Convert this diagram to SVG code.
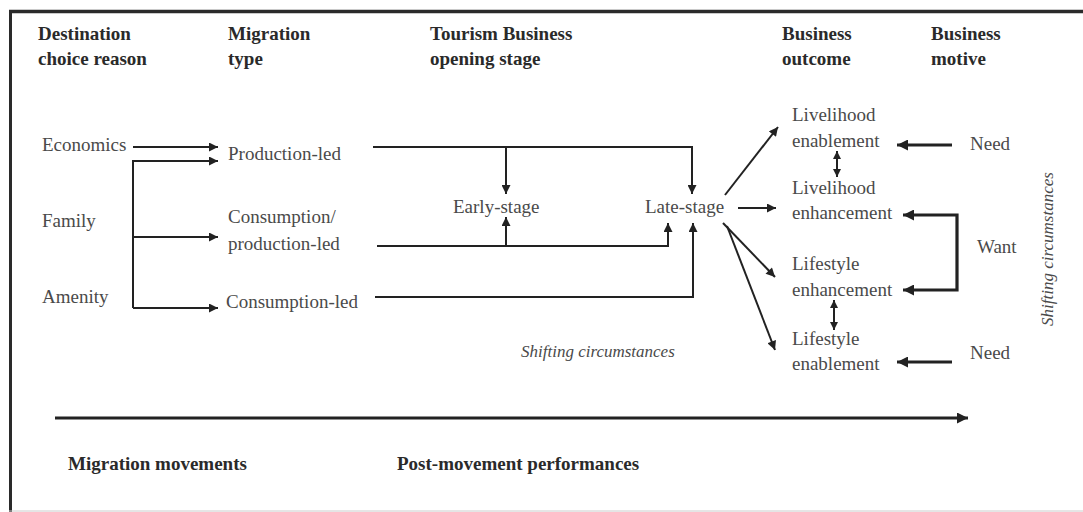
<svg xmlns="http://www.w3.org/2000/svg" width="1083" height="512" viewBox="0 0 1083 512">
<style>
.h{font-family:'Liberation Serif','Times New Roman',Times,'DejaVu Serif','Noto Serif',serif;font-weight:bold;font-size:19px;fill:#2a2a2a}
.t{font-family:'Liberation Serif','Times New Roman',Times,'DejaVu Serif','Noto Serif',serif;font-size:19px;fill:#4a4a4a}
.i{font-family:'Liberation Serif','Times New Roman',Times,'DejaVu Serif','Noto Serif',serif;font-style:italic;font-size:17px;fill:#4a4a4a}
.c{fill:none;stroke:#222;stroke-width:2}
.k{fill:none;stroke:#222;stroke-width:3.2}
</style>
<defs>
<marker id="ah" viewBox="0 0 10 10" refX="10" refY="5" markerWidth="10" markerHeight="9" markerUnits="userSpaceOnUse" orient="auto-start-reverse"><path d="M0,0 L10,5 L0,10 z" fill="#222"/></marker>
<marker id="ahs" viewBox="0 0 10 10" refX="10" refY="5" markerWidth="8" markerHeight="8" markerUnits="userSpaceOnUse" orient="auto-start-reverse"><path d="M0,0 L10,5 L0,10 z" fill="#222"/></marker>
<marker id="ahk" viewBox="0 0 10 10" refX="10" refY="5" markerWidth="11" markerHeight="11" markerUnits="userSpaceOnUse" orient="auto-start-reverse"><path d="M0,0 L10,5 L0,10 z" fill="#222"/></marker>
</defs>
<rect width="1083" height="512" fill="#fff"/>
<g id="frame">
<line x1="9" y1="11.5" x2="1083" y2="11.5" stroke="#2a2a2a" stroke-width="3.5"/>
<line x1="10.5" y1="10" x2="10.5" y2="512" stroke="#2a2a2a" stroke-width="3"/>
<line x1="9" y1="511" x2="1083" y2="511" stroke="#ccc" stroke-width="1"/>
</g>
<g id="headers">
<text class="h" x="38" y="40">Destination</text>
<text class="h" x="38" y="65">choice reason</text>
<text class="h" x="228" y="40">Migration</text>
<text class="h" x="228" y="65">type</text>
<text class="h" x="430" y="40">Tourism Business</text>
<text class="h" x="430" y="65">opening stage</text>
<text class="h" x="782" y="40">Business</text>
<text class="h" x="782" y="65">outcome</text>
<text class="h" x="931" y="40">Business</text>
<text class="h" x="931" y="65">motive</text>
</g>
<g id="economics"><text class="t" x="42" y="151">Economics</text></g>
<g id="family"><text class="t" x="42" y="227">Family</text></g>
<g id="amenity"><text class="t" x="42" y="303">Amenity</text></g>
<g id="production-led"><text class="t" x="228" y="160">Production-led</text></g>
<g id="consumption-production-led"><text class="t" x="228" y="223">Consumption/</text><text class="t" x="228" y="250">production-led</text></g>
<g id="consumption-led"><text class="t" x="226" y="308">Consumption-led</text></g>
<g id="early-stage"><text class="t" x="453" y="213">Early-stage</text></g>
<g id="late-stage"><text class="t" x="645" y="213">Late-stage</text></g>
<g id="livelihood-enablement"><text class="t" x="792" y="121">Livelihood</text><text class="t" x="792" y="147">enablement</text></g>
<g id="livelihood-enhancement"><text class="t" x="792" y="194">Livelihood</text><text class="t" x="792" y="219">enhancement</text></g>
<g id="lifestyle-enhancement"><text class="t" x="792" y="270">Lifestyle</text><text class="t" x="792" y="296">enhancement</text></g>
<g id="lifestyle-enablement"><text class="t" x="792" y="345">Lifestyle</text><text class="t" x="792" y="370">enablement</text></g>
<g id="need-top"><text class="t" x="970" y="150">Need</text></g>
<g id="want"><text class="t" x="977" y="253">Want</text></g>
<g id="need-bottom"><text class="t" x="970" y="359">Need</text></g>
<g id="shifting-mid"><text class="i" x="521" y="357">Shifting circumstances</text></g>
<g id="shifting-side"><text class="i" x="0" y="0" text-anchor="middle" transform="translate(1053,249) rotate(-90)">Shifting circumstances</text></g>
<g id="migration-movements"><text class="h" x="68" y="470">Migration movements</text></g>
<g id="post-movement"><text class="h" x="397" y="470">Post-movement performances</text></g>
<g id="connectors">
<path class="c" d="M133,147 H218" marker-end="url(#ah)"/>
<path class="c" d="M133,308 V161 H218" marker-end="url(#ah)"/>
<path class="c" d="M133,237 H218" marker-end="url(#ah)"/>
<path class="c" d="M133,308 H218" marker-end="url(#ah)"/>
<path class="c" d="M373,147 H692 V194" marker-end="url(#ah)"/>
<path class="c" d="M506,147 V194" marker-end="url(#ah)"/>
<path class="c" d="M377,246 H668 V223" marker-end="url(#ah)"/>
<path class="c" d="M506,246 V217" marker-end="url(#ah)"/>
<path class="c" d="M375,297 H693 V223" marker-end="url(#ah)"/>
<path class="c" d="M725,195 L778,127" marker-end="url(#ah)"/>
<path class="c" d="M738,208 H776" marker-end="url(#ah)"/>
<path class="c" d="M723,223 L775,277" marker-end="url(#ah)"/>
<path class="c" d="M727,226 L775,350" marker-end="url(#ah)"/>
<path class="c" d="M837,151 V177" marker-start="url(#ahs)" marker-end="url(#ahs)" stroke-width="1.5"/>
<path class="c" d="M834,300 V330" marker-start="url(#ahs)" marker-end="url(#ahs)" stroke-width="1.5"/>
<path class="k" d="M952,145 H897" marker-end="url(#ahk)"/>
<path class="k" d="M903,215 H957 V290 H903" marker-start="url(#ahk)" marker-end="url(#ahk)"/>
<path class="k" d="M952,362 H897" marker-end="url(#ahk)"/>
<path class="k" d="M55,418 H968" marker-end="url(#ahk)"/>
</g>
</svg>
